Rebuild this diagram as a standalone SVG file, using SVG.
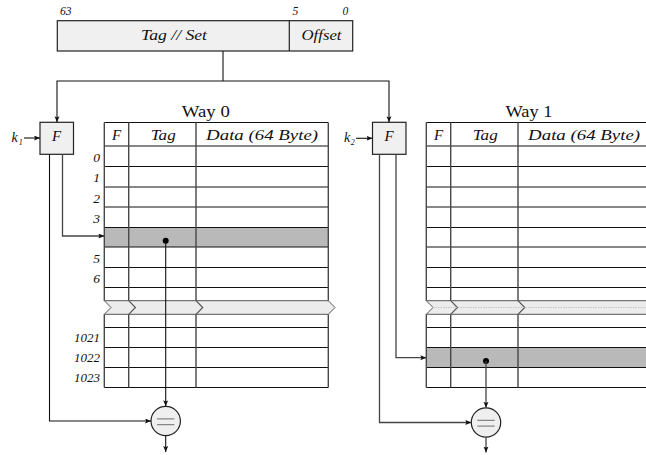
<svg xmlns="http://www.w3.org/2000/svg" xmlns:xlink="http://www.w3.org/1999/xlink" width="646" height="455" viewBox="0 0 646 455">
  <style>
    .it { font-family: "Liberation Serif", "Times New Roman", serif; font-style: italic; fill: #111; }
    .rm { font-family: "Liberation Serif", "Times New Roman", serif; fill: #111; }
    .box { fill: #f0f0f0; stroke: #222; stroke-width: 1.2; }
    .row { stroke: #111; stroke-width: 1; fill: none; }
    .col { stroke: #484848; stroke-width: 1.4; fill: none; }
    .band { fill: #ececec; stroke: #555; stroke-width: 1; }
    .chev { fill: none; stroke: #555; stroke-width: 1.2; }
    .hl { fill: #b9b9b9; }
    .wire { fill: none; stroke: #111; stroke-width: 1.1; }
    .wire2 { fill: none; stroke: #444; stroke-width: 1.3; }
    .arr { marker-end: url(#ah); }
    .cmp { fill: #efefef; stroke: #222; stroke-width: 1.2; }
    .eq { stroke: #888; stroke-width: 1.3; }
  </style>
  <defs>
    <marker id="ah" markerUnits="userSpaceOnUse" markerWidth="7" markerHeight="6" refX="6" refY="2.5" orient="auto">
      <path d="M0,0 L6,2.5 L0,5 L1.2,2.5 z" fill="#111"/>
    </marker>
    <!-- cache way grid, x relative to the table's left edge -->
    <g id="grid">
      <path class="row" d="M0,122.5H224 M0,146H224 M0,166.5H224 M0,187H224 M0,207H224 M0,227.5H224 M0,247H224 M0,267.5H224 M0,287.5H224 M0,327.5H224 M0,347.5H224 M0,367.5H224 M0,387.5H224"/>
      <path class="col" d="M0,122.5V300.7 M24.4,122.5V300.7 M91.7,122.5V300.7 M224,122.5V300.7 M0,314.3V387.5 M24.4,314.3V387.5 M91.7,314.3V387.5 M224,314.3V387.5"/>
      <!-- elided rows -->
      <path class="band" d="M0,300.7H224L230.7,307.5L224,314.3H0L6.7,307.5z"/>
      <path class="chev" d="M24.4,300.7L31.1,307.5L24.4,314.3 M91.7,300.7L98.4,307.5L91.7,314.3"/>
      <text class="it" x="12.4" y="139.5" font-size="15" text-anchor="middle">F</text>
      <text class="it" x="58.9" y="139.5" font-size="15" text-anchor="middle" textLength="25" lengthAdjust="spacingAndGlyphs">Tag</text>
      <text class="it" x="157.8" y="139.5" font-size="15" text-anchor="middle" textLength="112" lengthAdjust="spacingAndGlyphs">Data (64 Byte)</text>
    </g>
  </defs>

  <rect width="646" height="455" fill="#fff"/>

  <!-- address word -->
  <g id="addr">
    <text class="it" x="60" y="15" font-size="11.5">63</text>
    <text class="it" x="292.5" y="15" font-size="11.5">5</text>
    <text class="it" x="342.5" y="15" font-size="11.5">0</text>
    <rect class="box" x="57.3" y="20.7" width="295.4" height="30.3"/>
    <line x1="289.3" y1="20.7" x2="289.3" y2="51" stroke="#222" stroke-width="1.2"/>
    <text class="it" x="174" y="39.5" font-size="15" text-anchor="middle" textLength="66" lengthAdjust="spacingAndGlyphs">Tag // Set</text>
    <text class="it" x="321.5" y="39.5" font-size="15" text-anchor="middle" textLength="40" lengthAdjust="spacingAndGlyphs">Offset</text>
  </g>

  <!-- index functions -->
  <g id="f0">
    <rect class="box" x="40" y="122.3" width="33.5" height="32"/>
    <text class="it" x="56.7" y="140.5" font-size="15" text-anchor="middle">F</text>
    <text class="it" x="11.5" y="142.3" font-size="14">k</text>
    <text class="it" x="18.8" y="145" font-size="8">1</text>
  </g>
  <g id="f1">
    <rect class="box" x="372.5" y="122.3" width="33.5" height="32"/>
    <text class="it" x="389.2" y="140.5" font-size="15" text-anchor="middle">F</text>
    <text class="it" x="344" y="142.3" font-size="14">k</text>
    <text class="it" x="350.8" y="145" font-size="8">2</text>
  </g>

  <!-- way 0 -->
  <g id="way0">
    <text class="rm" x="205.8" y="116.5" font-size="17" text-anchor="middle" textLength="48" lengthAdjust="spacingAndGlyphs">Way 0</text>
    <rect class="hl" x="104.3" y="227.5" width="224" height="19.5"/>
    <use xlink:href="#grid" href="#grid" x="104.3"/>
    <g class="it" font-size="13.5" text-anchor="end">
      <text x="100" y="161.5">0</text>
      <text x="100" y="182">1</text>
      <text x="100" y="202.5">2</text>
      <text x="100" y="222.5">3</text>
      <text x="100" y="262.5">5</text>
      <text x="100" y="282.5">6</text>
      <text x="100" y="342" textLength="26" lengthAdjust="spacingAndGlyphs">1021</text>
      <text x="100" y="362" textLength="26" lengthAdjust="spacingAndGlyphs">1022</text>
      <text x="100" y="382" textLength="26" lengthAdjust="spacingAndGlyphs">1023</text>
    </g>
  </g>

  <!-- way 1 -->
  <g id="way1">
    <text class="rm" x="529" y="116.5" font-size="17" text-anchor="middle" textLength="47" lengthAdjust="spacingAndGlyphs">Way 1</text>
    <rect class="hl" x="426.3" y="347.5" width="224" height="20"/>
    <use xlink:href="#grid" href="#grid" x="426.3"/>
    <line x1="433" y1="307.5" x2="646" y2="307.5" stroke="#c4c4c4" stroke-width="1" stroke-dasharray="1.5 1"/>
  </g>

  <!-- tag comparators -->
  <g id="cmp0">
    <circle class="cmp" cx="165.7" cy="421" r="14.7"/>
    <path class="eq" d="M157,418.8H174.4 M157,424.6H174.4"/>
  </g>
  <g id="cmp1">
    <circle class="cmp" cx="486" cy="422.5" r="14.7"/>
    <path class="eq" d="M477.3,420.3H494.7 M477.3,426.1H494.7"/>
  </g>

  <!-- connectors -->
  <g id="connectors">
    <path class="wire" d="M223,51V81"/>
    <path class="wire arr" d="M223,81H57V122.3"/>
    <path class="wire arr" d="M223,81H389V122.3"/>
    <path class="wire arr" d="M24,138H40"/>
    <path class="wire arr" d="M356,138.3H372.5"/>
    <!-- way 0 -->
    <path class="wire2 arr" d="M62.5,154.3V236H104.3"/>
    <path class="wire arr" d="M49.5,154.3V421H151"/>
    <circle cx="165.7" cy="240.7" r="3" fill="#000"/>
    <path class="wire arr" d="M165.7,240.7V406.3"/>
    <path class="wire arr" d="M165.7,435.7V452"/>
    <!-- way 1 -->
    <path class="wire2 arr" d="M396,154.3V357.7H426.3"/>
    <path class="wire2 arr" d="M379.5,154.3V422.5H471.3"/>
    <circle cx="486" cy="361" r="3" fill="#000"/>
    <path class="wire2 arr" d="M486,361V407.8"/>
    <path class="wire2 arr" d="M486,437.2V452.5"/>
  </g>
</svg>
